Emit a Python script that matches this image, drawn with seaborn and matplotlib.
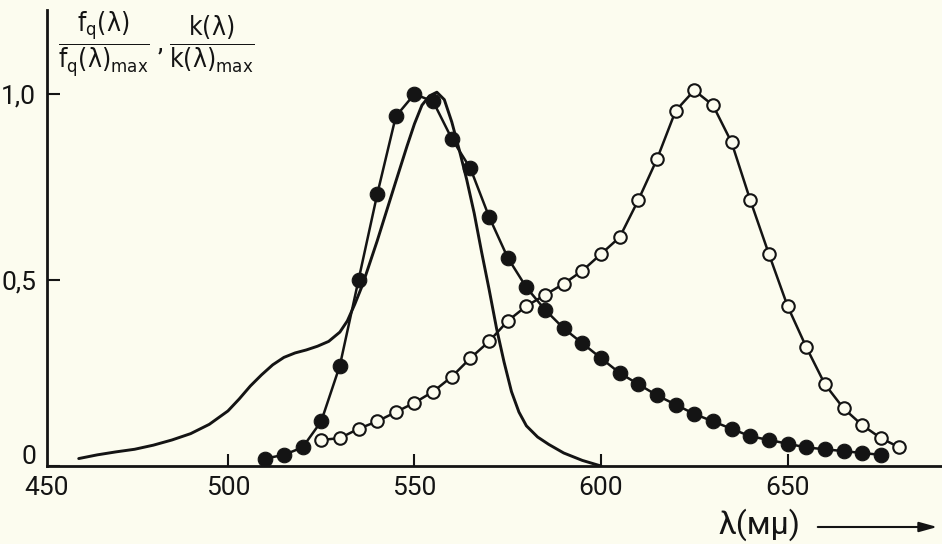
import numpy as np
import pandas as pd
import matplotlib
matplotlib.use("Agg")
import matplotlib.pyplot as plt
import matplotlib.transforms as mtransforms
import seaborn as sns

# ---- data ----
solid_wl = [460, 465, 470, 475, 480, 485, 490, 495, 500, 503, 506, 509, 512, 515, 518,
            521, 524, 527, 530, 532, 534, 536, 540, 545, 548, 550, 552, 554, 556, 558,
            560, 562, 564, 566, 568, 570, 572, 574, 576, 578, 580, 583, 586, 590, 595, 600]
solid_val = [0.02, 0.03, 0.038, 0.045, 0.056, 0.07, 0.087, 0.112, 0.148, 0.18, 0.215,
             0.245, 0.272, 0.292, 0.304, 0.312, 0.322, 0.335, 0.36, 0.39, 0.435, 0.485,
             0.605, 0.765, 0.86, 0.92, 0.97, 0.995, 1.005, 0.985, 0.925, 0.85, 0.77,
             0.68, 0.575, 0.475, 0.37, 0.28, 0.20, 0.145, 0.108, 0.078, 0.058, 0.035,
             0.015, 0.0]

filled_wl = list(range(510, 680, 5))
filled_val = [0.02, 0.03, 0.05, 0.12, 0.27, 0.50, 0.73, 0.94, 1.00, 0.98, 0.88, 0.80,
              0.67, 0.56, 0.48, 0.42, 0.37, 0.33, 0.29, 0.25, 0.22, 0.19, 0.165, 0.14,
              0.12, 0.10, 0.08, 0.07, 0.06, 0.05, 0.045, 0.04, 0.035, 0.03]

open_wl = list(range(525, 685, 5))
open_val = [0.07, 0.075, 0.10, 0.12, 0.145, 0.17, 0.20, 0.24, 0.29, 0.335, 0.39, 0.43,
            0.46, 0.49, 0.525, 0.57, 0.615, 0.715, 0.825, 0.955, 1.01, 0.97, 0.87,
            0.715, 0.57, 0.43, 0.32, 0.22, 0.155, 0.11, 0.075, 0.05]

x_ticks = [500, 550, 600, 650]
x_tick_labels = ["500", "550", "600", "650"]
y_ticks = [0, 0.5, 1.0]
y_tick_labels = ["0", "0,5", "1,0"]

BG = "#fcfcef"
INK = "#141414"

sns.set_theme(style="ticks")
plt.rcParams["font.family"] = ["Liberation Sans Narrow", "Roboto", "DejaVu Sans"]
plt.rcParams["font.stretch"] = "condensed"
plt.rcParams["mathtext.fontset"] = "dejavusans"

fig = plt.figure(figsize=(9.42, 5.44), dpi=100, facecolor=BG)
ax = fig.add_axes([47 / 942, 78 / 544, 895 / 942, 456 / 544])
ax.set_facecolor(BG)

df_s = pd.DataFrame({"wl": solid_wl, "v": solid_val})
df_f = pd.DataFrame({"wl": filled_wl, "v": filled_val})
df_o = pd.DataFrame({"wl": open_wl, "v": open_val})

sns.lineplot(data=df_s, x="wl", y="v", ax=ax, color=INK, lw=2.1, zorder=3)
sns.lineplot(data=df_o, x="wl", y="v", ax=ax, color=INK, lw=1.8, marker="o",
             markersize=9, markerfacecolor=BG, markeredgecolor=INK,
             markeredgewidth=1.5, zorder=4)
sns.lineplot(data=df_f, x="wl", y="v", ax=ax, color=INK, lw=1.8, marker="o",
             markersize=10.5, markerfacecolor=INK, markeredgecolor=INK,
             markeredgewidth=0.8, zorder=5)

ax.set_xlim(451.5, 691.4)
ax.set_ylim(0, 1.226)

ax.set_xticks([451.5] + x_ticks)
ax.set_xticklabels(["450"] + x_tick_labels)
ax.set_yticks(y_ticks)
ax.set_yticklabels(y_tick_labels)

ax.tick_params(axis="both", direction="in", length=9, width=1.5, colors=INK,
               labelsize=19, pad=7)
ax.tick_params(axis="y", pad=8)
ax.xaxis.get_major_ticks()[0].tick1line.set_visible(False)

# raise the "0" label a little, as in the reference
lab0 = ax.get_yticklabels()[0]
lab0.set_transform(lab0.get_transform() +
                   mtransforms.ScaledTranslation(0, 12 / 100, fig.dpi_scale_trans))

for s in ["top", "right"]:
    ax.spines[s].set_visible(False)
for s in ["left", "bottom"]:
    ax.spines[s].set_linewidth(2.0)
    ax.spines[s].set_color(INK)

ax.set_xlabel("")
ax.set_ylabel("")

# y-axis label (fractions) at top-left
fig.text(58 / 942, 1 - 10 / 544,
         r"$\dfrac{\mathrm{f_q(\lambda)}}{\mathrm{f_q(\lambda)_{max}}}$ , "
         r"$\dfrac{\mathrm{k(\lambda)}}{\mathrm{k(\lambda)_{max}}}$",
         ha="left", va="top", fontsize=19, color=INK)

# x-axis label with arrow
fig.text(759 / 942, 19 / 544, "λ(мμ)", ha="center", va="center",
         fontsize=23, color=INK)
ax.annotate("", xy=(940, 17), xycoords="figure pixels",
            xytext=(815, 17), textcoords="figure pixels",
            arrowprops=dict(arrowstyle="-|>,head_length=0.9,head_width=0.25",
                            color=INK, lw=1.5))

fig.savefig("out.png", dpi=100, facecolor=BG)
